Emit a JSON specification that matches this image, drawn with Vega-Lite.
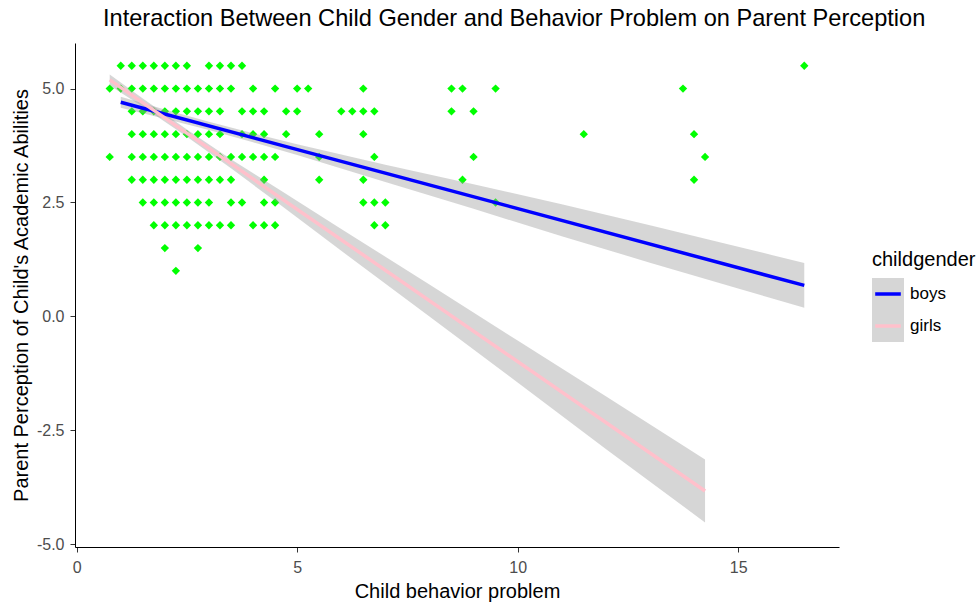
{
  "$schema": "https://vega.github.io/schema/vega-lite/v6.json",
  "width": 764,
  "height": 504,
  "autosize": {"type": "none"},
  "padding": {"left": 75, "top": 43, "right": 139, "bottom": 59},
  "background": "white",
  "title": {
    "text": "Interaction Between Child Gender and Behavior Problem on Parent Perception",
    "anchor": "start",
    "frame": "group",
    "dx": 28,
    "offset": 12,
    "font": "Liberation Sans",
    "fontSize": 23.6,
    "fontWeight": "normal",
    "color": "#000000"
  },
  "config": {
    "view": {"stroke": null},
    "axis": {
      "grid": false,
      "domainColor": "#000000",
      "domainWidth": 1,
      "tickColor": "#333333",
      "tickSize": 5,
      "tickWidth": 1,
      "labelColor": "#4D4D4D",
      "labelFont": "Liberation Sans",
      "labelFontSize": 16,
      "titleFont": "Liberation Sans",
      "titleFontSize": 20,
      "titleFontWeight": "normal",
      "titleColor": "#000000"
    }
  },
  "datasets": {
    "points": [
      {"behavior": 1.0, "perception": 5.5}, {"behavior": 1.25, "perception": 5.5}, {"behavior": 1.5, "perception": 5.5}, {"behavior": 1.75, "perception": 5.5}, {"behavior": 2.0, "perception": 5.5}, {"behavior": 2.25, "perception": 5.5}, {"behavior": 2.5, "perception": 5.5}, {"behavior": 3.0, "perception": 5.5}, {"behavior": 3.25, "perception": 5.5}, {"behavior": 3.5, "perception": 5.5}, {"behavior": 3.75, "perception": 5.5}, {"behavior": 16.5, "perception": 5.5},
      {"behavior": 0.75, "perception": 5.0}, {"behavior": 1.0, "perception": 5.0}, {"behavior": 1.25, "perception": 5.0}, {"behavior": 1.5, "perception": 5.0}, {"behavior": 1.75, "perception": 5.0}, {"behavior": 2.0, "perception": 5.0}, {"behavior": 2.25, "perception": 5.0}, {"behavior": 2.5, "perception": 5.0}, {"behavior": 2.75, "perception": 5.0}, {"behavior": 3.0, "perception": 5.0}, {"behavior": 3.25, "perception": 5.0}, {"behavior": 3.5, "perception": 5.0}, {"behavior": 4.0, "perception": 5.0}, {"behavior": 4.5, "perception": 5.0}, {"behavior": 5.0, "perception": 5.0}, {"behavior": 5.25, "perception": 5.0}, {"behavior": 6.5, "perception": 5.0}, {"behavior": 8.5, "perception": 5.0}, {"behavior": 8.75, "perception": 5.0}, {"behavior": 9.5, "perception": 5.0}, {"behavior": 13.75, "perception": 5.0},
      {"behavior": 1.25, "perception": 4.5}, {"behavior": 1.5, "perception": 4.5}, {"behavior": 1.75, "perception": 4.5}, {"behavior": 2.0, "perception": 4.5}, {"behavior": 2.25, "perception": 4.5}, {"behavior": 2.5, "perception": 4.5}, {"behavior": 2.75, "perception": 4.5}, {"behavior": 3.0, "perception": 4.5}, {"behavior": 3.25, "perception": 4.5}, {"behavior": 3.75, "perception": 4.5}, {"behavior": 4.0, "perception": 4.5}, {"behavior": 4.25, "perception": 4.5}, {"behavior": 4.75, "perception": 4.5}, {"behavior": 5.0, "perception": 4.5}, {"behavior": 6.0, "perception": 4.5}, {"behavior": 6.25, "perception": 4.5}, {"behavior": 6.5, "perception": 4.5}, {"behavior": 6.75, "perception": 4.5}, {"behavior": 8.5, "perception": 4.5}, {"behavior": 9.0, "perception": 4.5},
      {"behavior": 1.25, "perception": 4.0}, {"behavior": 1.5, "perception": 4.0}, {"behavior": 1.75, "perception": 4.0}, {"behavior": 2.0, "perception": 4.0}, {"behavior": 2.25, "perception": 4.0}, {"behavior": 2.5, "perception": 4.0}, {"behavior": 2.75, "perception": 4.0}, {"behavior": 3.0, "perception": 4.0}, {"behavior": 3.25, "perception": 4.0}, {"behavior": 3.75, "perception": 4.0}, {"behavior": 4.0, "perception": 4.0}, {"behavior": 4.25, "perception": 4.0}, {"behavior": 4.75, "perception": 4.0}, {"behavior": 5.5, "perception": 4.0}, {"behavior": 6.5, "perception": 4.0}, {"behavior": 11.5, "perception": 4.0}, {"behavior": 14.0, "perception": 4.0},
      {"behavior": 0.75, "perception": 3.5}, {"behavior": 1.25, "perception": 3.5}, {"behavior": 1.5, "perception": 3.5}, {"behavior": 1.75, "perception": 3.5}, {"behavior": 2.0, "perception": 3.5}, {"behavior": 2.25, "perception": 3.5}, {"behavior": 2.5, "perception": 3.5}, {"behavior": 2.75, "perception": 3.5}, {"behavior": 3.0, "perception": 3.5}, {"behavior": 3.25, "perception": 3.5}, {"behavior": 3.5, "perception": 3.5}, {"behavior": 3.75, "perception": 3.5}, {"behavior": 4.0, "perception": 3.5}, {"behavior": 4.25, "perception": 3.5}, {"behavior": 4.5, "perception": 3.5}, {"behavior": 5.5, "perception": 3.5}, {"behavior": 6.75, "perception": 3.5}, {"behavior": 9.0, "perception": 3.5}, {"behavior": 14.25, "perception": 3.5},
      {"behavior": 1.25, "perception": 3.0}, {"behavior": 1.5, "perception": 3.0}, {"behavior": 1.75, "perception": 3.0}, {"behavior": 2.0, "perception": 3.0}, {"behavior": 2.25, "perception": 3.0}, {"behavior": 2.5, "perception": 3.0}, {"behavior": 2.75, "perception": 3.0}, {"behavior": 3.0, "perception": 3.0}, {"behavior": 3.25, "perception": 3.0}, {"behavior": 3.5, "perception": 3.0}, {"behavior": 4.25, "perception": 3.0}, {"behavior": 5.5, "perception": 3.0}, {"behavior": 6.5, "perception": 3.0}, {"behavior": 8.75, "perception": 3.0}, {"behavior": 14.0, "perception": 3.0},
      {"behavior": 1.5, "perception": 2.5}, {"behavior": 1.75, "perception": 2.5}, {"behavior": 2.0, "perception": 2.5}, {"behavior": 2.25, "perception": 2.5}, {"behavior": 2.5, "perception": 2.5}, {"behavior": 2.75, "perception": 2.5}, {"behavior": 3.0, "perception": 2.5}, {"behavior": 3.5, "perception": 2.5}, {"behavior": 3.75, "perception": 2.5}, {"behavior": 4.25, "perception": 2.5}, {"behavior": 4.5, "perception": 2.5}, {"behavior": 6.5, "perception": 2.5}, {"behavior": 6.75, "perception": 2.5}, {"behavior": 7.0, "perception": 2.5}, {"behavior": 9.5, "perception": 2.5},
      {"behavior": 1.75, "perception": 2.0}, {"behavior": 2.0, "perception": 2.0}, {"behavior": 2.25, "perception": 2.0}, {"behavior": 2.5, "perception": 2.0}, {"behavior": 2.75, "perception": 2.0}, {"behavior": 3.0, "perception": 2.0}, {"behavior": 3.25, "perception": 2.0}, {"behavior": 3.5, "perception": 2.0}, {"behavior": 4.0, "perception": 2.0}, {"behavior": 4.25, "perception": 2.0}, {"behavior": 4.5, "perception": 2.0}, {"behavior": 6.75, "perception": 2.0}, {"behavior": 7.0, "perception": 2.0},
      {"behavior": 2.0, "perception": 1.5}, {"behavior": 2.75, "perception": 1.5},
      {"behavior": 2.25, "perception": 1.0}
    ],
    "bands": [
      {"x": 1.0, "lo": 4.58, "hi": 4.82, "childgender": "boys"},
      {"x": 2.0, "lo": 4.34, "hi": 4.54, "childgender": "boys"},
      {"x": 3.0, "lo": 4.09, "hi": 4.27, "childgender": "boys"},
      {"x": 4.0, "lo": 3.82, "hi": 4.02, "childgender": "boys"},
      {"x": 5.0, "lo": 3.54, "hi": 3.78, "childgender": "boys"},
      {"x": 7.0, "lo": 2.95, "hi": 3.33, "childgender": "boys"},
      {"x": 9.0, "lo": 2.36, "hi": 2.90, "childgender": "boys"},
      {"x": 11.0, "lo": 1.76, "hi": 2.46, "childgender": "boys"},
      {"x": 13.0, "lo": 1.18, "hi": 2.00, "childgender": "boys"},
      {"x": 15.0, "lo": 0.61, "hi": 1.53, "childgender": "boys"},
      {"x": 16.5, "lo": 0.19, "hi": 1.17, "childgender": "boys"},
      {"x": 0.75, "lo": 5.07, "hi": 5.31, "childgender": "girls"},
      {"x": 1.5, "lo": 4.60, "hi": 4.78, "childgender": "girls"},
      {"x": 2.5, "lo": 3.94, "hi": 4.10, "childgender": "girls"},
      {"x": 3.5, "lo": 3.25, "hi": 3.45, "childgender": "girls"},
      {"x": 4.6, "lo": 2.46, "hi": 2.78, "childgender": "girls"},
      {"x": 6.0, "lo": 1.44, "hi": 1.92, "childgender": "girls"},
      {"x": 8.0, "lo": 0.00, "hi": 0.70, "childgender": "girls"},
      {"x": 10.0, "lo": -1.45, "hi": -0.53, "childgender": "girls"},
      {"x": 12.0, "lo": -2.91, "hi": -1.75, "childgender": "girls"},
      {"x": 14.25, "lo": -4.52, "hi": -3.14, "childgender": "girls"}
    ],
    "fits": [
      {"x": 1.0, "fit": 4.70, "childgender": "boys"},
      {"x": 16.5, "fit": 0.68, "childgender": "boys"},
      {"x": 0.75, "fit": 5.19, "childgender": "girls"},
      {"x": 14.25, "fit": -3.83, "childgender": "girls"}
    ]
  },
  "layer": [
    {
      "data": {"name": "points"},
      "mark": {"type": "point", "shape": "diamond", "filled": true, "size": 70, "color": "#00FF00", "opacity": 1},
      "encoding": {
        "x": {
          "field": "behavior", "type": "quantitative",
          "scale": {"domain": [-0.0375, 17.2875], "nice": false, "zero": false},
          "axis": {"title": "Child behavior problem", "values": [0, 5, 10, 15], "format": "d", "labelPadding": 7, "titlePadding": 6}
        },
        "y": {
          "field": "perception", "type": "quantitative",
          "scale": {"domain": [-5.06, 6.0], "nice": false, "zero": false},
          "axis": {
            "title": "Parent Perception of Child's Academic Abilities",
            "values": [-5, -2.5, 0, 2.5, 5],
            "labelExpr": "datum.value < 0 ? '-' + format(-datum.value, '.1f') : format(datum.value, '.1f')",
            "labelPadding": 6,
            "titlePadding": 5
          }
        }
      }
    },
    {
      "data": {"name": "bands"},
      "mark": {"type": "area", "fillOpacity": 0.4},
      "encoding": {
        "x": {"field": "x", "type": "quantitative"},
        "y": {"field": "lo", "type": "quantitative"},
        "y2": {"field": "hi"},
        "fill": {
          "field": "childgender", "type": "nominal",
          "scale": {"range": ["#999999", "#999999"]},
          "legend": {
            "title": "childgender",
            "orient": "none",
            "legendX": 797,
            "legendY": 207,
            "padding": 0,
            "zindex": 1,
            "titleFont": "Liberation Sans",
            "titleFontSize": 20,
            "titleFontWeight": "normal",
            "titleColor": "#000000",
            "titlePadding": 8,
            "labelFont": "Liberation Sans",
            "labelFontSize": 17,
            "labelColor": "#000000",
            "labelOffset": 6,
            "symbolType": "square",
            "symbolSize": 1024,
            "symbolStrokeWidth": 0,
            "symbolOpacity": 0.4,
            "symbolOffset": 0,
            "clipHeight": 32,
            "rowPadding": 0
          }
        }
      }
    },
    {
      "data": {"name": "fits"},
      "mark": {"type": "line", "strokeWidth": 3.5},
      "encoding": {
        "x": {"field": "x", "type": "quantitative"},
        "y": {"field": "fit", "type": "quantitative"},
        "color": {
          "field": "childgender", "type": "nominal",
          "scale": {"domain": ["boys", "girls"], "range": ["#0000FF", "#FFC0CB"]},
          "legend": {
            "title": null,
            "orient": "none",
            "legendX": 797,
            "legendY": 235,
            "padding": 0,
            "zindex": 2,
            "labelFont": "Liberation Sans",
            "labelFontSize": 17,
            "labelExpr": "''",
            "labelOffset": 6,
            "symbolType": "M-0.8,0H0.8",
            "symbolSize": 1024,
            "symbolStrokeWidth": 3.5,
            "symbolOffset": -2,
            "clipHeight": 32,
            "rowPadding": 0
          }
        }
      }
    }
  ]
}
